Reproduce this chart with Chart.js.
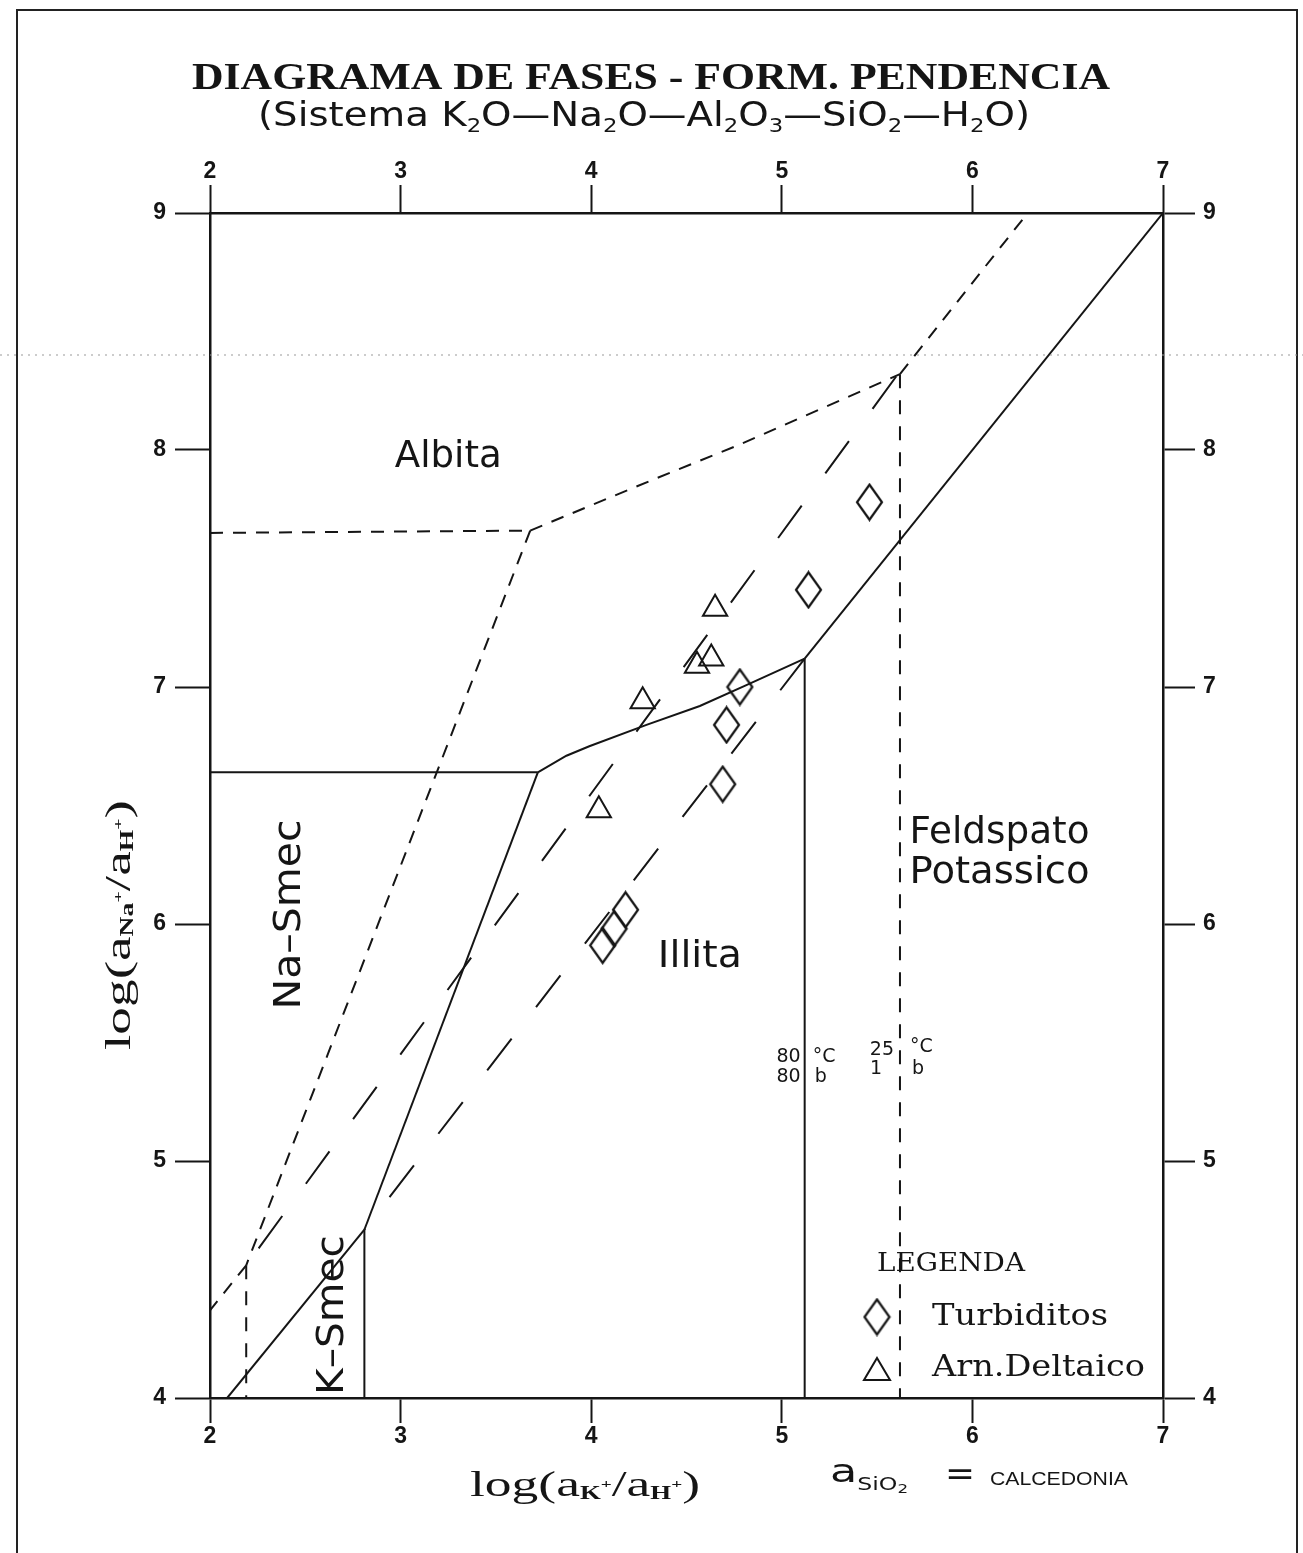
<!DOCTYPE html>
<html>
<head>
<meta charset="utf-8">
<script src="https://cdn.jsdelivr.net/npm/chart.js@4.4.1/dist/chart.umd.min.js"></script>
<style>
  html, body { margin: 0; padding: 0; background: #fff; }
  canvas { display: block; }
</style>
</head>
<body>
<canvas id="diagrama" width="1303" height="1553"></canvas>
<script>
// ---- datos (log aK+/aH+, log aNa+/aH+) ----
const ticksK = [2, 3, 4, 5, 6, 7];
const ticksNa = [4, 5, 6, 7, 8, 9];

// limites a 80 °C / 80 b (linea continua)
const naSmecAlbita80 = [[2.0, 6.64], [3.72, 6.64]];
const albitaIllita80 = [[3.72, 6.64], [3.87, 6.71], [3.99, 6.75], [4.29, 6.84], [4.57, 6.92], [4.82, 7.01], [5.12, 7.12]];
const albitaFeld80 = [[5.12, 7.12], [7.0, 9.0]];
const illitaFeld80 = [[5.12, 7.12], [5.12, 4.0]];
const naSmecIllita80 = [[3.72, 6.64], [2.81, 4.71]];
const naSmecKSmec80 = [[2.81, 4.71], [2.09, 4.0]];
const kSmecIllita80 = [[2.81, 4.71], [2.81, 4.0]];

// limites a 25 °C / 1 b (trazo corto)
const naSmecAlbita25 = [[2.0, 7.65], [3.68, 7.66]];
const albitaIllita25 = [[3.68, 7.66], [4.31, 7.87], [4.77, 8.02], [5.11, 8.14], [5.62, 8.32]];
const albitaFeld25 = [[5.62, 8.32], [6.29, 9.0]];
const illitaFeld25 = [[5.62, 8.32], [5.62, 4.0]];
const naSmecIllita25 = [[3.68, 7.66], [2.19, 4.56]];
const naSmecKSmec25 = [[2.19, 4.56], [2.0, 4.37]];
const kSmecIllita25 = [[2.19, 4.56], [2.19, 4.0]];

// trazo largo
const smecIllita25 = [[5.6, 8.31], [2.19, 4.56]];
const smecIllita80 = [[5.12, 7.12], [2.81, 4.71]];

// muestras
const turbiditos = [[5.46, 7.78], [5.14, 7.41], [4.78, 7.0], [4.71, 6.84], [4.69, 6.59], [4.18, 6.06], [4.12, 5.98], [4.06, 5.91]];
const arnDeltaico = [[4.65, 7.33], [4.63, 7.12], [4.555, 7.09], [4.27, 6.94], [4.04, 6.48]];

const INK = '#151515';
const pts = arr => arr.map(([x, y]) => ({ x, y }));

function diamond(w, h, lw) {
  const c = document.createElement('canvas');
  c.width = w + 4; c.height = h + 4;
  const g = c.getContext('2d');
  g.strokeStyle = INK; g.lineWidth = lw;
  g.beginPath();
  g.moveTo(c.width / 2, 2);
  g.lineTo(c.width - 2, c.height / 2);
  g.lineTo(c.width / 2, c.height - 2);
  g.lineTo(2, c.height / 2);
  g.closePath();
  g.stroke();
  return c;
}
const diamondImg = diamond(25, 35, 2.2);

function line(data, dash) {
  return {
    type: 'scatter', data: pts(data), showLine: true, pointRadius: 0,
    borderColor: INK, borderWidth: 2, borderDash: dash || [], tension: 0, fill: false
  };
}
const SHORT = [13, 10];
const LONG = [40, 40];

// texto ajustado a un ancho dado
function fitRuns(ctx, runs, x, y, width, align) {
  ctx.save();
  let w = 0;
  runs.forEach(r => { ctx.font = r[1]; w += ctx.measureText(r[0]).width; });
  const k = width ? width / w : 1;
  ctx.translate(x, y);
  ctx.scale(k, 1);
  let cx = align === 'left' ? 0 : -w / 2;
  ctx.textBaseline = 'middle';
  ctx.textAlign = 'left';
  ctx.fillStyle = INK;
  runs.forEach(r => {
    ctx.font = r[1];
    ctx.fillText(r[0], cx, r[2] || 0);
    cx += ctx.measureText(r[0]).width;
  });
  ctx.restore();
}

const textos = {
  id: 'textos',
  afterDatasetsDraw(chart) {
    const ctx = chart.ctx;
    const sx = chart.scales.x, sy = chart.scales.y;
    const px = v => sx.getPixelForValue(v), py = v => sy.getPixelForValue(v);
    const sans = 'DejaVu Sans';

    // titulo
    fitRuns(ctx, [['DIAGRAMA DE FASES - FORM. PENDENCIA', 'bold 38px "Liberation Serif"']], 651, 79, 918);
    fitRuns(ctx, [['(Sistema K', '34px "' + sans + '"'], ['2', '20px "' + sans + '"', 10], ['O—Na', '34px "' + sans + '"'], ['2', '20px "' + sans + '"', 10],
      ['O—Al', '34px "' + sans + '"'], ['2', '20px "' + sans + '"', 10], ['O', '34px "' + sans + '"'], ['3', '20px "' + sans + '"', 10],
      ['—SiO', '34px "' + sans + '"'], ['2', '20px "' + sans + '"', 10], ['—H', '34px "' + sans + '"'], ['2', '20px "' + sans + '"', 10],
      ['O)', '34px "' + sans + '"']], 644, 117, 772);

    // campos
    fitRuns(ctx, [['Albita', '38px "' + sans + '"']], px(3.25), py(7.97), 107);
    fitRuns(ctx, [['Illita', '38px "' + sans + '"']], px(4.57), py(5.86), 84);
    fitRuns(ctx, [['Feldspato', '38px "' + sans + '"']], px(5.67), py(6.385), 180, 'left');
    fitRuns(ctx, [['Potassico', '38px "' + sans + '"']], px(5.67), py(6.215), 180, 'left');

    ctx.save();
    ctx.translate(px(2.42), py(6.04));
    ctx.rotate(-Math.PI / 2);
    fitRuns(ctx, [['Na–Smec', '38px "' + sans + '"']], 0, 0, 190);
    ctx.restore();
    ctx.save();
    ctx.translate(px(2.645), py(4.35));
    ctx.rotate(-Math.PI / 2);
    fitRuns(ctx, [['K–Smec', '38px "' + sans + '"']], 0, 0, 160);
    ctx.restore();

    // condiciones
    const f18 = '19px "' + sans + '"';
    ctx.save();
    ctx.fillStyle = INK; ctx.font = f18; ctx.textBaseline = 'middle';
    ctx.textAlign = 'right';
    ctx.fillText('80', px(5.12) - 4, py(5.44));
    ctx.fillText('80', px(5.12) - 4, py(5.355));
    ctx.fillText('25', px(5.62) - 6, py(5.47));
    ctx.fillText('1', px(5.62) - 18, py(5.39));
    ctx.textAlign = 'left';
    ctx.fillText('°C', px(5.12) + 8, py(5.44));
    ctx.fillText('b', px(5.12) + 10, py(5.355));
    ctx.fillText('°C', px(5.62) + 10, py(5.48));
    ctx.fillText('b', px(5.62) + 12, py(5.39));
    ctx.restore();

    // leyenda
    const lx = 877;
    fitRuns(ctx, [['LEGENDA', '26px "DejaVu Serif"']], lx, 1264, 148, 'left');
    ctx.drawImage(diamondImg, lx - diamondImg.width / 2, 1317 - diamondImg.height / 2);
    ctx.save();
    ctx.strokeStyle = INK; ctx.lineWidth = 2;
    ctx.beginPath();
    ctx.moveTo(lx, 1358); ctx.lineTo(lx + 13, 1380); ctx.lineTo(lx - 13, 1380); ctx.closePath();
    ctx.stroke();
    ctx.restore();
    fitRuns(ctx, [['Turbiditos', '30px "DejaVu Serif"']], 932, 1317, 176, 'left');
    fitRuns(ctx, [['Arn.Deltaico', '30px "DejaVu Serif"']], 932, 1368, 213, 'left');

    // titulos de ejes
    const serif = '"Liberation Serif"';
    const big = '36px ' + serif, sub = 'bold 18px ' + serif, sup = 'bold 13px ' + serif;
    fitRuns(ctx, [['log(a', big], ['K', sub, 7], ['+', sup, -2], ['/a', big], ['H', sub, 7], ['+', sup, -2], [')', big]], 585, 1487, 230);
    ctx.save();
    ctx.translate(121, 925);
    ctx.rotate(-Math.PI / 2);
    fitRuns(ctx, [['log(a', big], ['Na', sub, 7], ['+', sup, -2], ['/a', big], ['H', sub, 7], ['+', sup, -2], [')', big]], 0, 0, 250);
    ctx.restore();

    fitRuns(ctx, [['a', '32px "' + sans + '"', -4], ['SiO', '17px "' + sans + '"', 8], ['2', '12px "' + sans + '"', 12]], 830, 1478, 78, 'left');
    fitRuns(ctx, [['=', '34px "' + sans + '"']], 960, 1476, 30);
    fitRuns(ctx, [['CALCEDONIA', '18px "Liberation Sans Narrow", "Liberation Sans"']], 990, 1480, 138, 'left');

    // marco de la hoja
    ctx.save();
    ctx.strokeStyle = '#222'; ctx.lineWidth = 2;
    ctx.beginPath();
    ctx.moveTo(17, 1553); ctx.lineTo(17, 10); ctx.lineTo(1297, 10); ctx.lineTo(1297, 1553);
    ctx.stroke();
    ctx.strokeStyle = '#999'; ctx.lineWidth = 1; ctx.setLineDash([2, 5]);
    ctx.beginPath(); ctx.moveTo(0, 355); ctx.lineTo(1303, 355); ctx.stroke();
    ctx.restore();
  }
};

function axis(position, vals, size, tl, pad, isX) {
  return {
    type: 'linear', position,
    min: isX ? 2 : 4, max: isX ? 7 : 9,
    afterBuildTicks: s => { s.ticks = vals.map(v => ({ value: v })); },
    afterFit: s => { if (isX) s.height = size; else s.width = size; },
    grid: { drawOnChartArea: false, drawTicks: true, tickLength: tl, color: INK, tickWidth: 2 },
    border: { display: true, color: INK, width: 2.5 },
    ticks: { color: INK, padding: pad, font: { family: '"Liberation Sans"', weight: 'bold', size: 23 }, maxRotation: 0, autoSkip: false }
  };
}

new Chart(document.getElementById('diagrama').getContext('2d'), {
  type: 'scatter',
  data: {
    datasets: [
      line(naSmecAlbita80), line(albitaIllita80), line(albitaFeld80), line(illitaFeld80),
      line(naSmecIllita80), line(naSmecKSmec80), line(kSmecIllita80),
      line(naSmecAlbita25, SHORT), line(albitaIllita25, SHORT), line(albitaFeld25, SHORT),
      line(illitaFeld25, [14, 12]), line(naSmecIllita25, SHORT), line(naSmecKSmec25, SHORT),
      line(kSmecIllita25, [14, 12]),
      line(smecIllita25, LONG), line(smecIllita80, LONG),
      {
        label: 'Turbiditos', data: pts(turbiditos), pointStyle: diamondImg,
        pointRadius: 12, showLine: false
      },
      {
        label: 'Arn.Deltaico', data: pts(arnDeltaico), pointStyle: 'triangle', pointRadius: 14,
        borderColor: INK, borderWidth: 2, backgroundColor: 'rgba(0,0,0,0)', showLine: false
      }
    ]
  },
  options: {
    responsive: false, animation: false, events: [],
    layout: { padding: 0 },
    plugins: { legend: { display: false }, tooltip: { enabled: false } },
    scales: {
      x: axis('bottom', ticksK, 155, 25, 0, true),
      xTop: axis('top', ticksK, 213, 28, 0, true),
      y: axis('left', ticksNa, 210, 35, 9, false),
      yRight: axis('right', ticksNa, 140, 32, 8, false)
    }
  },
  plugins: [textos]
});
</script>
</body>
</html>
